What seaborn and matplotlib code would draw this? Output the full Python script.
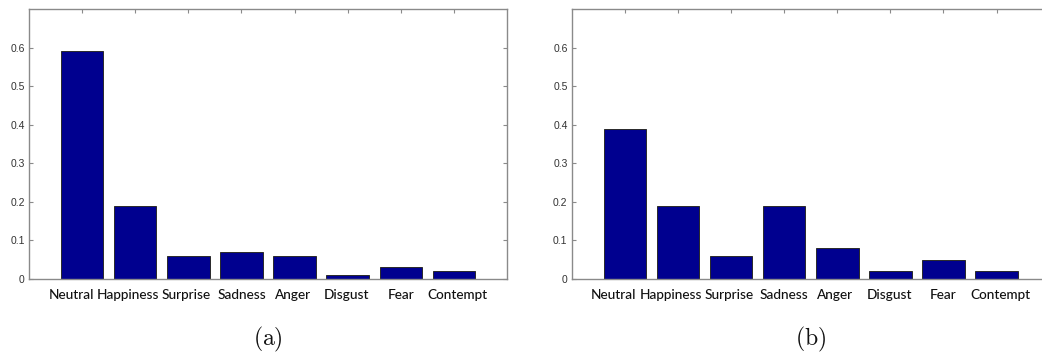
import matplotlib
matplotlib.use("Agg")
import matplotlib.pyplot as plt
import matplotlib.transforms as mtransforms
import seaborn as sns
import pandas as pd

# Emotion categories and the share of each in the two distributions
emotions = ["Neutral", "Happiness", "Surprise", "Sadness", "Anger", "Disgust", "Fear", "Contempt"]
share_a = [0.59, 0.19, 0.06, 0.07, 0.06, 0.01, 0.03, 0.02]
share_b = [0.39, 0.19, 0.06, 0.19, 0.08, 0.02, 0.05, 0.02]
y_ticks = [0, 0.1, 0.2, 0.3, 0.4, 0.5, 0.6]
y_tick_labels = ["0", "0.1", "0.2", "0.3", "0.4", "0.5", "0.6"]
panel_labels = ["(a)", "(b)"]

sns.set_style("white")
plt.rcParams["font.family"] = ["DejaVu Sans"]
plt.rcParams["mathtext.fontset"] = "cm"

W, H = 1042, 354
fig = plt.figure(figsize=(W / 100, H / 100), dpi=100)

bar_color = "#00008F"
spine_color = "#8a8a8a"

# axes boxes in pixels: left, top, width, height
boxes = [(29, 9, 478, 270), (571.7, 9, 478, 270)]
# small horizontal nudges (pixels) so neighbouring category labels don't collide
label_nudge = [-11, -7, -2, 0, -2, -1, 0, 4]

for (lx, ty, w, h), vals, lab in zip(boxes, [share_a, share_b], panel_labels):
    ax = fig.add_axes([lx / W, 1 - (ty + h) / H, w / W, h / H])
    df = pd.DataFrame({"emotion": emotions, "share": vals})
    sns.barplot(data=df, x="emotion", y="share", ax=ax, color=bar_color,
                saturation=1, width=0.8, edgecolor="#2a2a2a", linewidth=0.7)
    ax.set_xlim(-1, len(emotions))
    ax.set_ylim(0, 0.7)
    ax.set_yticks(y_ticks)
    ax.set_yticklabels(y_tick_labels)
    ax.set_xlabel("")
    ax.set_ylabel("")
    for s in ax.spines.values():
        s.set_visible(True)
        s.set_color(spine_color)
        s.set_linewidth(1.0)
    ax.tick_params(axis="both", direction="in", length=3, width=0.8,
                   color=spine_color, top=True, right=True, bottom=True, left=True)
    ax.tick_params(axis="y", labelsize=7.5, labelcolor="#333333", pad=3)
    ax.tick_params(axis="x", labelsize=9.8, labelcolor="#111111", pad=7)
    for t, dx in zip(ax.get_xticklabels(), label_nudge):
        t.set_fontfamily("Lato")
        t.set_fontweight("medium")
        t.set_transform(t.get_transform() +
                        mtransforms.ScaledTranslation(dx / 100, 0, fig.dpi_scale_trans))
    for t in ax.get_yticklabels():
        t.set_fontfamily("Liberation Sans")
    # panel caption below the axes
    ax.text(0.5, -0.225, r"$\mathrm{" + lab + "}$", transform=ax.transAxes,
            ha="center", va="center", fontsize=17, color="#111111")

fig.savefig("out.png", dpi=100)
